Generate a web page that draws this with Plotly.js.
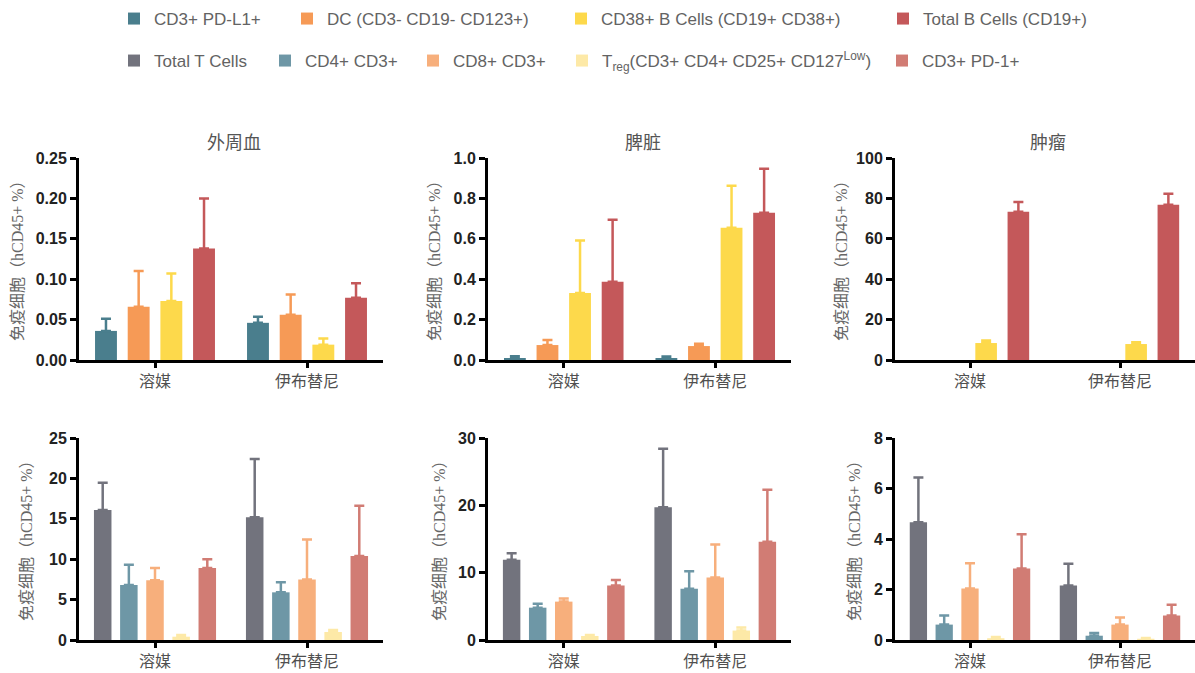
<!DOCTYPE html>
<html><head><meta charset="utf-8">
<script src="https://cdn.plot.ly/plotly-3.0.1.min.js"></script>
<style>html,body{margin:0;padding:0;background:#fff}#chart{width:1195px;height:673px}</style>
</head><body><div id="chart"></div>
<script>
// ---------- data ----------
const groups = ['溶媒', '伊布替尼'];
const panelTitles = ['外周血', '脾脏', '肿瘤'];
const yTitle = '免疫细胞（hCD45+ %）';

const topSeries = ['CD3+ PD-L1+', 'DC (CD3- CD19- CD123+)', 'CD38+ B Cells (CD19+ CD38+)', 'Total B Cells (CD19+)'];
const bottomSeries = ['Total T Cells', 'CD4+ CD3+', 'CD8+ CD3+', 'T<sub>reg</sub>(CD3+ CD4+ CD25+ CD127<sup>Low</sup>)', 'CD3+ PD-1+'];

// top row: rows = series (topSeries order), cols = groups
const bloodMean  = [[0.036, 0.046], [0.066, 0.056], [0.073, 0.019], [0.138, 0.077]];
const bloodErr   = [[0.015, 0.0075], [0.044, 0.025], [0.034, 0.0075], [0.062, 0.018]];
const spleenMean = [[0.010, 0.010], [0.074, 0.069], [0.332, 0.655], [0.387, 0.729]];
const spleenErr  = [[0.008, 0.007], [0.025, 0.012], [0.260, 0.208], [0.307, 0.218]];
const tumorMean  = [[null, null], [null, null], [8.4, 7.9], [73.4, 76.9]];
const tumorErr   = [[0, 0], [0, 0], [1.3, 0.85], [4.8, 5.4]];

// bottom row: rows = series (bottomSeries order), cols = groups
const bloodTMean  = [[16.1, 15.2], [6.8, 5.9], [7.4, 7.5], [0.41, 0.99], [8.9, 10.4]];
const bloodTErr   = [[3.35, 7.2], [2.5, 1.25], [1.5, 4.95], [0.21, 0.25], [1.1, 6.2]];
const spleenTMean = [[11.9, 19.7], [4.8, 7.6], [5.7, 9.3], [0.6, 1.4], [8.1, 14.6]];
const spleenTErr  = [[1.0, 8.7], [0.6, 2.6], [0.45, 4.9], [0.15, 0.45], [0.8, 7.7]];
const tumorTMean  = [[4.66, 2.16], [0.61, 0.17], [2.04, 0.61], [0.07, 0.05], [2.83, 0.97]];
const tumorTErr   = [[1.78, 0.86], [0.36, 0.11], [1.0, 0.28], [0.05, 0.03], [1.36, 0.43]];

const yRanges = [[0, 0.25], [0, 1.0], [0, 100], [0, 25], [0, 30], [0, 8]];
const yDticks = [0.05, 0.2, 20, 5, 10, 2];
const yFormats = ['.2f', '.1f', 'd', 'd', 'd', 'd'];

// ---------- styles ----------
const topColors = ['#4a7e8d', '#f69a56', '#fdd94b', '#c4585a'];
const bottomColors = ['#72737d', '#6e97a6', '#f7af7c', '#fde9a7', '#d17c74'];
const W = 1195, H = 673;
const px = v => v / W;
const py = v => 1 - v / H;
const xDomains = [[79, 383], [488, 791], [895, 1195]];
const rowY = [[158, 360], [438, 640]];
const yTitleX = [17, 434, 841, 26, 439, 854];
const legendTextX = [[154, 327, 601, 923], [154, 305, 453, 602, 922]];
const legendRowY = [19, 61];
const cjk = 'Noto Sans CJK SC, Noto Sans CJK JP, sans-serif';
const cjkSerif = 'Liberation Serif, Noto Sans CJK SC, serif';
const latin = 'Liberation Sans, Arial, sans-serif';

const traces = [];
const layout = {
  width: W, height: H,
  margin: {l: 0, r: 0, t: 0, b: 0},
  paper_bgcolor: '#fff', plot_bgcolor: '#fff',
  barmode: 'group', bargap: 0.14, bargroupgap: 0.33,
  font: {family: latin, color: '#222'},
  annotations: [],
  showlegend: true
};

let legendCount = 0;
function legendName() {
  legendCount++;
  return legendCount === 1 ? 'legend' : 'legend' + legendCount;
}
function addPanel(series, colors, means, errs, idx, row, showLeg) {
  const ax = idx === 1 ? '' : String(idx);
  series.forEach((name, i) => {
    let lg;
    if (showLeg) {
      lg = legendName();
      layout[lg] = {
        orientation: 'h', x: px(legendTextX[row][i] - 40), xanchor: 'left',
        y: py(legendRowY[row]), yanchor: 'middle',
        font: {size: 17, color: '#636363', family: latin},
        bgcolor: 'rgba(0,0,0,0)', borderwidth: 0,
        itemclick: false, itemdoubleclick: false
      };
    }
    traces.push({
      type: 'bar', x: groups, y: means[i], name: name,
      xaxis: 'x' + ax, yaxis: 'y' + ax,
      legend: showLeg ? lg : undefined, legendgroup: name, showlegend: showLeg,
      marker: {color: colors[i], line: {width: 0}},
      error_y: {type: 'data', symmetric: false, array: errs[i], arrayminus: errs[i].map(() => 0),
                color: colors[i], thickness: 2.5, width: 5},
      hoverinfo: 'name+y'
    });
  });
}
addPanel(topSeries, topColors, bloodMean, bloodErr, 1, 0, true);
addPanel(topSeries, topColors, spleenMean, spleenErr, 2, 0, false);
addPanel(topSeries, topColors, tumorMean, tumorErr, 3, 0, false);
addPanel(bottomSeries, bottomColors, bloodTMean, bloodTErr, 4, 1, true);
addPanel(bottomSeries, bottomColors, spleenTMean, spleenTErr, 5, 1, false);
addPanel(bottomSeries, bottomColors, tumorTMean, tumorTErr, 6, 1, false);

for (let k = 1; k <= 6; k++) {
  const ax = k === 1 ? '' : String(k);
  const col = (k - 1) % 3, row = k <= 3 ? 0 : 1;
  layout['xaxis' + ax] = {
    domain: [px(xDomains[col][0]), px(xDomains[col][1])],
    anchor: 'y' + ax, type: 'category', range: [-0.5, 1.5], fixedrange: true,
    showline: true, linecolor: '#000', linewidth: 3, mirror: false,
    ticks: 'outside', ticklen: 5, tickwidth: 3, tickcolor: '#000',
    showgrid: false, zeroline: false,
    tickfont: {family: cjkSerif, size: 16, color: '#505050'}
  };
  layout['yaxis' + ax] = {
    domain: [py(rowY[row][1]), py(rowY[row][0])],
    anchor: 'x' + ax, range: yRanges[k - 1], dtick: yDticks[k - 1], tick0: 0,
    tickformat: yFormats[k - 1], fixedrange: true,
    showline: true, linecolor: '#000', linewidth: 3,
    ticks: 'outside', ticklen: 6, tickwidth: 3, tickcolor: '#000',
    showgrid: false, zeroline: false,
    tickfont: {family: latin, size: 16, color: '#222', weight: 'bold'}
  };
  layout.annotations.push({
    text: yTitle, xref: 'paper', yref: 'paper', textangle: -90,
    x: px(yTitleX[k - 1]), y: py((rowY[row][0] + rowY[row][1]) / 2 - 2),
    xanchor: 'center', yanchor: 'middle', showarrow: false,
    font: {family: cjkSerif, size: 16, color: '#666'}
  });
}
panelTitles.forEach((t, c) => {
  layout.annotations.push({
    text: t, xref: 'paper', yref: 'paper',
    x: px((xDomains[c][0] + xDomains[c][1]) / 2 + 3), y: py(141),
    xanchor: 'center', yanchor: 'middle', showarrow: false,
    font: {family: cjk, size: 18, color: '#555'}
  });
});

Plotly.newPlot('chart', traces, layout, {staticPlot: true, displayModeBar: false});
</script>
</body></html>
